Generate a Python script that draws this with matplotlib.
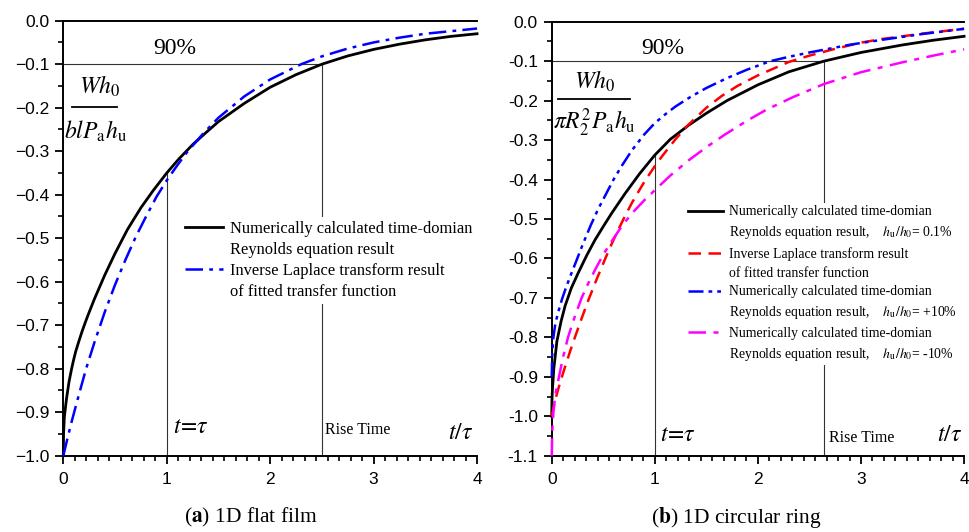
import matplotlib
matplotlib.use("Agg")
import matplotlib.pyplot as plt
from matplotlib.lines import Line2D
from matplotlib.ticker import (MultipleLocator, AutoMinorLocator,
                               FormatStrFormatter, FuncFormatter)
import numpy as np

plt.rcParams["font.family"] = ["Liberation Serif", "DejaVu Serif"]
plt.rcParams["mathtext.fontset"] = "stix"

# ---- (a) 1D flat film ----
t_a_num = [0, 0.002, 0.01, 0.03, 0.055, 0.08, 0.1, 0.12, 0.15, 0.18, 0.21,
           0.24, 0.3, 0.4, 0.5, 0.62, 0.75, 0.87, 1.0, 1.12, 1.25, 1.38, 1.5,
           1.75, 2.0, 2.25, 2.5, 2.75, 3.0, 3.25, 3.5, 3.75, 4.0]
w_a_num = [-1.0, -0.95, -0.91, -0.87, -0.83, -0.8, -0.779, -0.76, -0.737,
           -0.715, -0.695, -0.676, -0.64, -0.585, -0.535, -0.48, -0.43, -0.39,
           -0.35, -0.317, -0.285, -0.257, -0.232, -0.19, -0.153, -0.124, -0.1,
           -0.081, -0.066, -0.054, -0.044, -0.036, -0.03]
t_a_fit = [0, 0.04, 0.08, 0.15, 0.22, 0.3, 0.4, 0.5, 0.6, 0.7, 0.8, 0.9,
           1.0, 1.1, 1.2, 1.35, 1.5, 1.75, 2.0, 2.3, 2.5, 2.75, 3.0, 3.25,
           3.5, 3.75, 4.0]
w_a_fit = [-1.0, -0.96, -0.922, -0.86, -0.8, -0.74, -0.67, -0.607, -0.55,
           -0.497, -0.45, -0.405, -0.367, -0.333, -0.301, -0.26, -0.223,
           -0.174, -0.135, -0.1, -0.082, -0.064, -0.05, -0.039, -0.03,
           -0.024, -0.018]
rise_a = 2.5

# ---- (b) 1D circular ring ----
t_b_num = [0, 0.002, 0.006, 0.02, 0.05, 0.09, 0.13, 0.19, 0.26, 0.34, 0.42,
           0.5, 0.58, 0.71, 0.85, 1.0, 1.15, 1.33, 1.5, 1.7, 2.0, 2.3, 2.64,
           3.0, 3.4, 3.7, 4.0]
w_b_num = [-1.0, -0.96, -0.935, -0.88, -0.81, -0.76, -0.72, -0.675, -0.635,
           -0.592, -0.553, -0.519, -0.486, -0.436, -0.386, -0.338, -0.298,
           -0.262, -0.232, -0.2, -0.16, -0.127, -0.1, -0.078, -0.059, -0.047,
           -0.037]
t_b_fit = [0, 0.03, 0.064, 0.1, 0.13, 0.18, 0.23, 0.29, 0.355, 0.44, 0.52,
           0.58, 0.646, 0.71, 0.78, 0.9, 1.0, 1.07, 1.2, 1.33, 1.5, 1.65, 1.8,
           2.0, 2.3, 2.5, 2.73, 3.0, 3.2, 3.6, 4.0]
w_b_fit = [-1.0, -0.962, -0.93, -0.899, -0.874, -0.834, -0.796, -0.752,
           -0.706, -0.65, -0.6, -0.564, -0.527, -0.493, -0.458, -0.405,
           -0.366, -0.341, -0.298, -0.26, -0.218, -0.188, -0.163, -0.136,
           -0.102, -0.086, -0.07, -0.053, -0.044, -0.03, -0.018]
t_b_plus = [0, 0.005, 0.016, 0.035, 0.064, 0.1, 0.13, 0.18, 0.23, 0.3, 0.38,
            0.45, 0.52, 0.6, 0.68, 0.78, 0.9, 1.0, 1.1, 1.2, 1.35, 1.5, 1.7,
            1.9, 2.12, 2.3, 2.5, 2.9, 3.2, 3.6, 4.0]
w_b_plus = [-0.9, -0.84, -0.8, -0.765, -0.735, -0.703, -0.68, -0.645, -0.612,
            -0.565, -0.515, -0.475, -0.44, -0.4, -0.365, -0.325, -0.285,
            -0.257, -0.235, -0.215, -0.19, -0.168, -0.143, -0.121, -0.1,
            -0.089, -0.078, -0.058, -0.046, -0.031, -0.018]
t_b_minus = [0, 0.005, 0.016, 0.035, 0.064, 0.11, 0.16, 0.22, 0.29, 0.36,
             0.42, 0.5, 0.58, 0.68, 0.78, 0.9, 1.0, 1.15, 1.33, 1.5, 1.68,
             1.9, 2.09, 2.35, 2.64, 3.0, 3.4, 3.7, 4.0]
w_b_minus = [-1.1, -1.04, -0.99, -0.945, -0.908, -0.85, -0.798, -0.75, -0.7,
             -0.66, -0.629, -0.59, -0.557, -0.518, -0.485, -0.452, -0.427,
             -0.39, -0.351, -0.318, -0.286, -0.25, -0.222, -0.19, -0.158,
             -0.128, -0.103, -0.086, -0.07]
rise_b = 2.64

tau = 1.0
level_90 = -0.1

fig = plt.figure(figsize=(9.7, 5.32), dpi=100)
ax_a = fig.add_axes([0.0653, 0.1434, 0.4265, 0.8177])
ax_b = fig.add_axes([0.5688, 0.1434, 0.4251, 0.8158])


def style_axes(ax, ymin, yfmt):
    ax.set_xlim(0, 4)
    ax.set_ylim(ymin, 0.0)
    ax.spines["right"].set_visible(False)
    for s in ("left", "bottom", "top"):
        ax.spines[s].set_linewidth(1.4)
    ax.xaxis.set_major_locator(MultipleLocator(1))
    ax.xaxis.set_minor_locator(AutoMinorLocator(9))
    ax.yaxis.set_major_locator(MultipleLocator(0.1))
    ax.yaxis.set_minor_locator(MultipleLocator(0.05))
    ax.xaxis.set_major_formatter(FormatStrFormatter("%d"))
    ax.yaxis.set_major_formatter(yfmt)
    ax.tick_params(which="major", direction="out", length=6, width=1.3,
                   labelsize=12.5, pad=4)
    ax.tick_params(axis="x", which="major", pad=6)
    ax.tick_params(which="minor", direction="out", length=3.5, width=1.2)
    ax.tick_params(top=False, right=False)
    for lab in ax.get_xticklabels() + ax.get_yticklabels():
        lab.set_family("Liberation Sans")


def guides(ax, t_num, w_num, rise, ymin):
    thin = dict(color="#333333", lw=0.8, zorder=1)
    ax.plot([0, rise], [level_90, level_90], **thin)
    ax.plot([tau, tau], [ymin, np.interp(tau, t_num, w_num)], **thin)
    ax.plot([rise, rise], [ymin, level_90], **thin)


def fraction(ax, num, den, num_xy, den_xy, bar_x, bar_y):
    ax.text(*num_xy, num, fontsize=17, ha="center", va="center")
    ax.text(*den_xy, den, fontsize=17, ha="center", va="center")
    ax.plot(bar_x, [bar_y, bar_y], color="black", lw=1.3, zorder=2)


def white_legend(leg):
    frame = leg.get_frame()
    frame.set_edgecolor("none")
    frame.set_facecolor("white")
    frame.set_alpha(1)
    leg.set_zorder(5)


blank = Line2D([], [], color="none")
minus_fmt = FuncFormatter(lambda v, pos: f"{v:.1f}".replace("-", "\u2212"))

# ---- panel (a) ----
style_axes(ax_a, -1.0, minus_fmt)
guides(ax_a, t_a_num, w_a_num, rise_a, -1.0)
ax_a.plot(t_a_num, w_a_num, color="black", lw=2.0, clip_on=False, zorder=3)
ax_a.plot(t_a_fit, w_a_fit, color="#0000ff", lw=1.8,
          dashes=(7, 2.5, 1.5, 2.5), clip_on=False, zorder=3)

handles_a = [Line2D([], [], color="black", lw=2.0), blank,
             Line2D([], [], color="#0000ff", lw=1.8, dashes=(7, 2.5, 1.5, 2.5)),
             blank]
labels_a = ["Numerically calculated time-domian", "Reynolds equation result",
            "Inverse Laplace transform result", "of fitted transfer function"]
leg_a = ax_a.legend(handles_a, labels_a, loc="upper left",
                    bbox_to_anchor=(0.287, 0.548), fontsize=11.9,
                    handlelength=2.3, handletextpad=0.4, labelspacing=0.32,
                    borderpad=0.2, borderaxespad=0, frameon=True,
                    fancybox=False)
white_legend(leg_a)

ax_a.text(1.08, -0.063, "90%", fontsize=17, ha="center", va="center")
fraction(ax_a, r"$Wh_0$", r"$blP_\mathrm{a}h_\mathrm{u}$",
         (0.355, -0.15), (0.307, -0.255), [0.084, 0.519], -0.198)
ax_a.text(1.06, -0.936, r"$t\!=\!\tau$", fontsize=17, ha="left", va="center")
ax_a.text(2.53, -0.94, "Rise Time", fontsize=11.5, ha="left", va="center")
ax_a.text(3.96, -0.95, r"$t/\tau$", fontsize=17, ha="right", va="center")

# ---- panel (b) ----
style_axes(ax_b, -1.1, FormatStrFormatter("%.1f"))
guides(ax_b, t_b_num, w_b_num, rise_b, -1.1)
ax_b.plot(t_b_num, w_b_num, color="black", lw=2.0, clip_on=False, zorder=3)
ax_b.plot(t_b_fit, w_b_fit, color="#ff0000", lw=1.8, dashes=(5, 3),
          clip_on=False, zorder=3)
ax_b.plot(t_b_plus, w_b_plus, color="#0000ff", lw=1.8,
          dashes=(6, 2, 1.5, 2, 1.5, 2), clip_on=False, zorder=3)
ax_b.plot(t_b_minus, w_b_minus, color="#ff00ff", lw=1.8,
          dashes=(7, 3, 2, 3), clip_on=False, zorder=3)

handles_b = [Line2D([], [], color="black", lw=2.0), blank,
             Line2D([], [], color="#ff0000", lw=1.8, dashes=(5, 3)), blank,
             Line2D([], [], color="#0000ff", lw=1.8,
                    dashes=(6, 2, 1.5, 2, 1.5, 2)), blank,
             Line2D([], [], color="#ff00ff", lw=1.8, dashes=(7, 3, 2, 3)),
             blank]
labels_b = ["Numerically calculated time-domian",
            r"Reynolds equation result,    $h_\mathrm{u}/h_0$= 0.1%",
            "Inverse Laplace transform result",
            "of fitted transfer function",
            "Numerically calculated time-domian",
            r"Reynolds equation result,    $h_\mathrm{u}/h_0$= +10%",
            "Numerically calculated time-domian",
            r"Reynolds equation result,    $h_\mathrm{u}/h_0$= -10%"]
leg_b = ax_b.legend(handles_b, labels_b, loc="upper left",
                    bbox_to_anchor=(0.3226, 0.583), fontsize=9.9,
                    handlelength=2.6, handletextpad=0.4, labelspacing=0.42,
                    borderpad=0.2, borderaxespad=0, frameon=True,
                    fancybox=False)
white_legend(leg_b)

ax_b.text(1.075, -0.069, "90%", fontsize=17, ha="center", va="center")
fraction(ax_b, r"$Wh_0$", r"$\pi R_2^2P_\mathrm{a}h_\mathrm{u}$",
         (0.419, -0.15), (0.411, -0.257), [0.062, 0.76], -0.196)
ax_b.text(1.05, -1.048, r"$t\!=\!\tau$", fontsize=17, ha="left", va="center")
ax_b.text(2.69, -1.055, "Rise Time", fontsize=11.5, ha="left", va="center")
ax_b.text(3.98, -1.05, r"$t/\tau$", fontsize=17, ha="right", va="center")

# captions
fig.text(0.259, 0.028, r"($\mathbf{a}$) 1D flat film", fontsize=15.5,
         ha="center", va="center")
fig.text(0.759, 0.028, r"($\mathbf{b}$) 1D circular ring", fontsize=15.5,
         ha="center", va="center")

fig.savefig("out.png", dpi=100)
